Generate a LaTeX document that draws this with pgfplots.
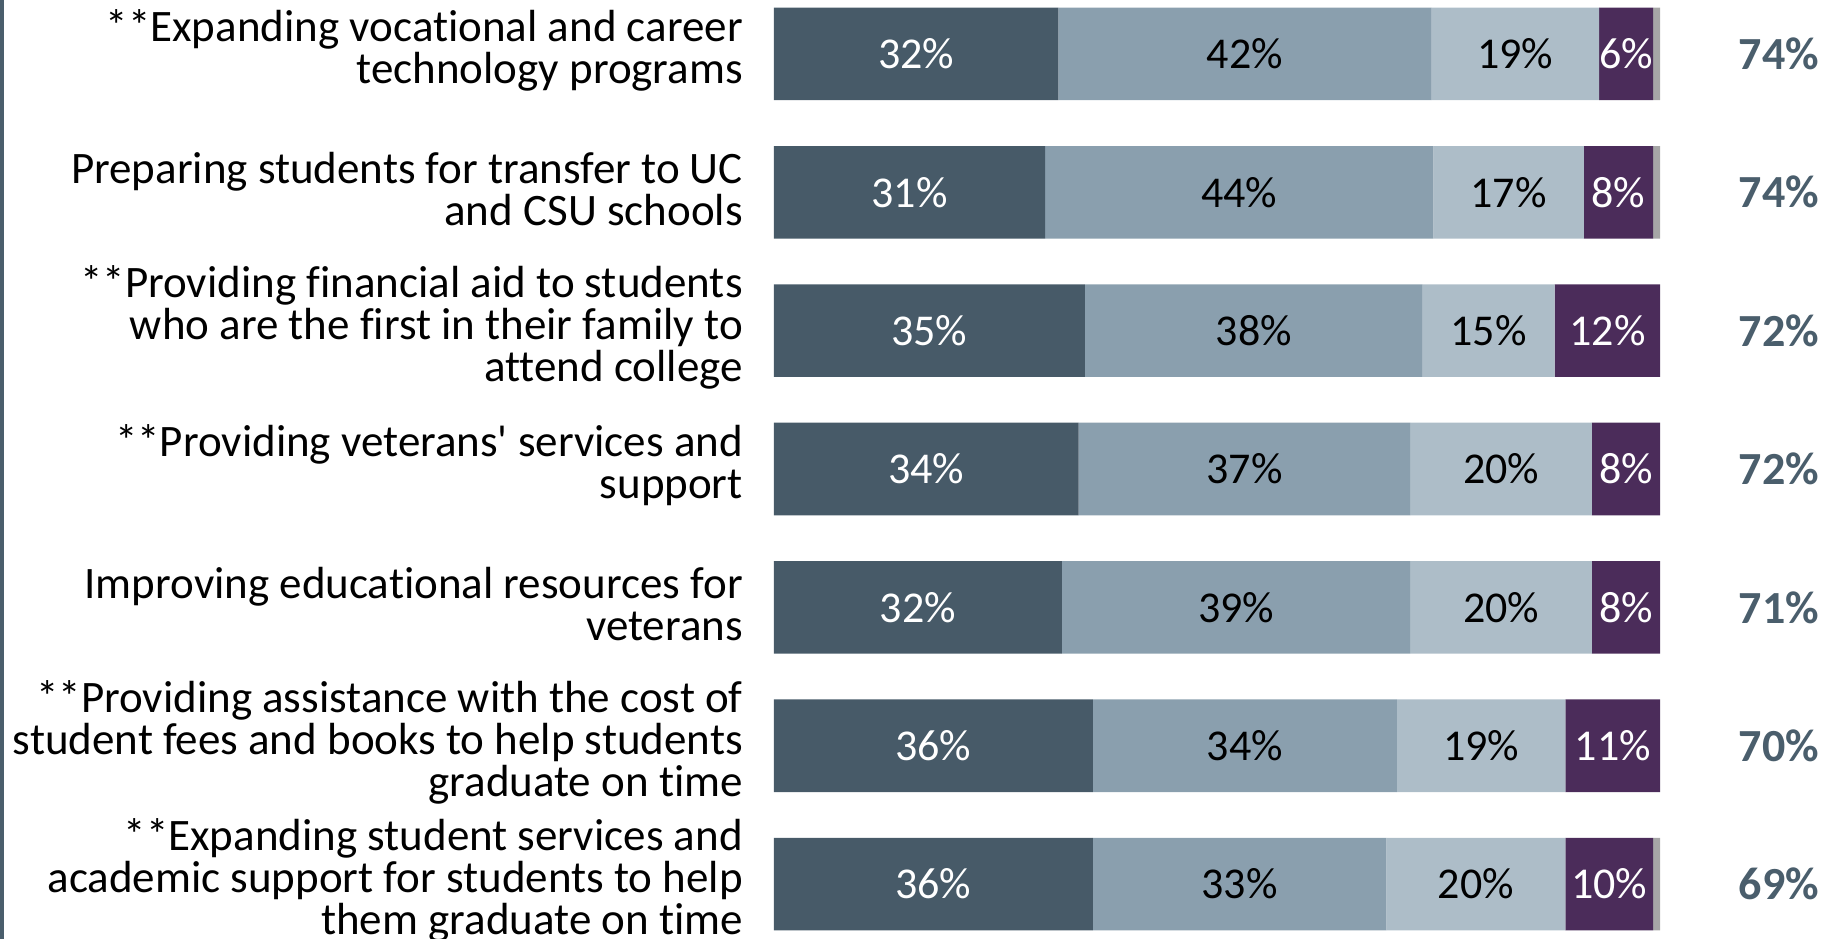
\documentclass[border=0pt]{standalone}
\usepackage{pgfplots}
\usepackage{pgfplotstable}
\pgfplotsset{compat=1.18}
\usepackage{fontspec}
\setmainfont{Carlito}[Ligatures={NoCommon}]
\newfontfamily\apos{Carlito}

\definecolor{cA}{HTML}{475A68}
\definecolor{cB}{HTML}{8A9FAE}
\definecolor{cC}{HTML}{ADBDC8}
\definecolor{cD}{HTML}{4B2C5A}
\definecolor{cE}{HTML}{A6A6A6}
\definecolor{slate}{HTML}{4A5E6C}

\pgfplotstableread{
row a b c d e la lb lc ld tot
0 32.1 42.1 18.9 6.1 0.8 32 42 19 6 74
1 30.6 43.8 17.0 7.8 0.8 31 44 17 8 74
2 35.1 38.1 14.9 11.9 0 35 38 15 12 72
3 34.4 37.4 20.5 7.7 0 34 37 20 8 72
4 32.5 39.3 20.5 7.7 0 32 39 20 8 71
5 36.0 34.3 19.0 10.7 0 36 34 19 11 70
6 36.0 33.1 20.2 9.9 0.8 36 33 20 10 69
}\data

\pgfplotsset{
  base/.style={at={(0,0)}, anchor=south west, scale only axis,
    width=920.5bp, height=469.5bp,
    xmin=-87.3, xmax=120.4, ymin=-0.39, ymax=6.397, y dir=reverse,
    hide axis, clip=false},
  lbl/.style={draw=none, mark=none, point meta=explicit symbolic,
    nodes near coords={\pgfplotspointmeta\%},
    every node near coord/.append style={anchor=center, inner sep=0pt,
      font=\fontsize{22bp}{22bp}\selectfont, text=#1}},
}

\begin{document}
\begin{tikzpicture}
\path[use as bounding box] (0,0) rectangle (920.5bp,469.5bp);
\fill[slate] (0,0) rectangle (1.8bp,469.5bp);
\begin{axis}[base, xbar stacked, bar width=46.3bp]
\addplot[fill=cA, draw=none] table[x=a, y=row] {\data};
\addplot[fill=cB, draw=none] table[x=b, y=row] {\data};
\addplot[fill=cC, draw=none] table[x=c, y=row] {\data};
\addplot[fill=cD, draw=none] table[x=d, y=row] {\data};
\addplot[fill=cE, draw=none] table[x=e, y=row] {\data};
\end{axis}
\begin{axis}[base]
\addplot[lbl=white] table[x expr=\thisrow{a}/2, y=row, meta=la] {\data};
\addplot[lbl=black] table[x expr=\thisrow{a}+\thisrow{b}/2, y=row, meta=lb] {\data};
\addplot[lbl=black] table[x expr=\thisrow{a}+\thisrow{b}+\thisrow{c}/2, y=row, meta=lc] {\data};
\addplot[lbl=white] table[x expr=\thisrow{a}+\thisrow{b}+\thisrow{c}+\thisrow{d}/2, y=row, meta=ld] {\data};
\addplot[draw=none, mark=none, point meta=explicit symbolic,
  nodes near coords={\pgfplotspointmeta\%},
  every node near coord/.append style={anchor=center, inner sep=0pt,
    font=\fontsize{23bp}{23bp}\selectfont\bfseries, text=slate}]
  table[x expr=113.4, y=row, meta=tot] {\data};
\begin{scope}[every node/.style={anchor=east, align=right, inner sep=0pt, yshift=1.8bp,
    font=\fontsize{22.5bp}{21bp}\selectfont}]
\node at (axis cs:-3.45,0) {**Expanding vocational and career\\technology programs};
\node at (axis cs:-3.45,1) {Preparing students for transfer to UC\\and CSU schools};
\node at (axis cs:-3.45,2) {**Providing financial aid to students\\who are the first in their family to\\attend college};
\node at (axis cs:-3.45,3) {**Providing veterans{\apos'} services and\\support};
\node at (axis cs:-3.45,4) {Improving educational resources for\\veterans};
\node at (axis cs:-3.45,5) {**Providing assistance with the cost of\\student fees and books to help students\\graduate on time};
\node at (axis cs:-3.45,6) {**Expanding student services and\\academic support for students to help\\them graduate on time};
\end{scope}
\end{axis}
\end{tikzpicture}
\end{document}
